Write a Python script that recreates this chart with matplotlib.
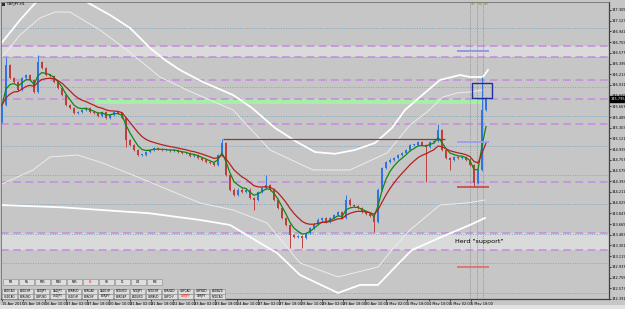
import numpy as np
import pandas as pd
import matplotlib as mpl
import matplotlib.pyplot as plt
from matplotlib.patches import Rectangle

mpl.rcParams['font.family'] = 'DejaVu Sans'

# ===================== Data (GBPJPY H1, one value every 3 bars) =====================
first_open = 145.40
closes = [145.69, 146.37, 146.15, 146.08, 145.95, 146.15, 146.20, 146.12, 145.91, 146.42,
          146.32, 146.20, 146.18, 146.08, 145.98, 145.86, 145.69, 145.64, 145.55, 145.57,
          145.61, 145.64, 145.57, 145.55, 145.50, 145.57, 145.47, 145.52, 145.57, 145.55,
          145.47, 145.10, 145.01, 144.93, 144.84, 144.84, 144.89, 144.93, 144.96, 144.94,
          144.93, 144.93, 144.91, 144.93, 144.89, 144.87, 144.87, 144.82, 144.84, 144.79,
          144.76, 144.72, 144.70, 144.67, 144.84, 145.04, 144.50, 144.25, 144.16, 144.25,
          144.21, 144.25, 144.11, 144.08, 144.21, 144.28, 144.33, 144.25, 144.08, 143.94,
          143.77, 143.65, 143.48, 143.45, 143.46, 143.43, 143.51, 143.60, 143.67, 143.74,
          143.77, 143.70, 143.77, 143.82, 143.87, 143.77, 144.08, 143.99, 143.97, 143.94,
          143.87, 143.84, 143.80, 143.70, 144.25, 144.62, 144.72, 144.76, 144.79, 144.84,
          144.87, 144.93, 145.01, 145.01, 145.06, 145.01, 144.98, 145.06, 145.08, 145.27,
          144.93, 144.79, 144.76, 144.81, 144.79, 144.81, 144.76, 144.67, 144.36, 144.59,
          145.61, 145.81]
step_hours = 3

# long wicks (bar number, extreme price)
wick_bar = [1, 9, 31, 55, 63, 66, 72, 75, 86, 93, 106, 109, 112, 118, 120]
wick_price = [146.51, 146.54, 144.98, 145.11, 143.90, 144.50, 143.26, 143.26, 144.16,
              143.53, 144.38, 145.37, 144.59, 144.30, 146.17]

# envelope curves (hour, price)
upper_slow_h = [-1.5, 13.5, 27, 43.5, 60.75, 81, 96, 111, 122.25, 133.5, 150.75, 173.25,
                187.5, 204.75, 221.25, 234.75, 249.75, 264.75, 279.75, 292.5, 302.25,
                313.5, 328.5, 343.5, 351, 360.75, 364.5]
upper_slow_p = [146.71, 147.135, 147.475, 147.68, 147.475, 147.22, 147.0, 146.66, 146.455,
                146.285, 146.08, 145.86, 145.64, 145.30, 145.06, 144.89, 144.86, 144.925,
                145.044, 145.30, 145.605, 145.826, 146.115, 146.20, 146.166, 146.166, 146.285]
upper_fast_h = [0, 13.5, 28.5, 39.75, 51, 73.5, 93.75, 118.5, 138.75, 173.25, 201, 233.25,
                261, 288.75, 306, 318.75, 330.75, 341.25, 351, 360.75]
upper_fast_p = [146.506, 146.88, 147.17, 147.27, 147.27, 146.965, 146.625, 146.166, 145.945,
                145.605, 144.925, 144.585, 144.585, 144.874, 145.35, 145.571, 145.826,
                145.894, 145.911, 145.945]
lower_fast_h = [-1.5, 23.25, 36, 56.25, 73.5, 103.5, 148.5, 173.25, 198.75, 223.5, 252,
                282, 292.5, 306, 328.5, 348.75, 362.25]
lower_fast_p = [144.33, 144.585, 144.806, 144.84, 144.72, 144.45, 144.024, 143.905, 143.684,
                143.004, 142.766, 142.936, 143.225, 143.565, 143.99, 144.024, 144.075]
lower_slow_h = [-1.5, 45, 110, 148.5, 171, 193.5, 206.25, 223.5, 252, 268.5, 282, 298.5,
                307.5, 330, 351, 362.25]
lower_slow_p = [143.99, 143.95, 143.85, 143.735, 143.65, 143.344, 143.174, 142.80, 142.494,
                142.63, 142.63, 143.02, 143.225, 143.45, 143.65, 143.769]

# levels
dashed_levels = [146.693, 146.506, 146.115, 145.792, 145.367, 144.381, 143.514, 143.225]
dotted_levels = [147.0, 146.5, 146.0, 145.5, 145.0, 144.5, 144.0, 143.5, 143.0, 142.5]
zones = [(146.506, 146.693), (143.225, 143.514)]
green_zone = (145.707, 145.792, 69.75, 360)
resist_line = (145.11, 165.75, 332.25)
vlines_h = [351, 356.25, 360.75]
short_lines = [(146.60, '#8c94e6'), (145.06, '#9aa0e8'), (144.296, '#c85050'), (142.936, '#e07070')]
short_x = (341.25, 365.25)
box = (352.5, 145.809, 15, 0.255)

price_ticks = [147.305, 147.123, 146.941, 146.759, 146.577, 146.395, 146.213, 146.031,
               145.849, 145.667, 145.485, 145.303, 145.121, 144.939, 144.757, 144.575,
               144.393, 144.211, 144.029, 143.847, 143.665, 143.483, 143.301, 143.119,
               142.937, 142.755, 142.573, 142.391]
time_ticks = [0, 16, 32, 48, 64, 80, 96, 112, 128, 144, 160, 176, 192, 208, 224, 240, 256,
              272, 288, 304, 320, 336, 352]
time_labels = ["15 Apr 2015", "15 Apr 18:00", "16 Apr 10:00", "17 Apr 02:00", "17 Apr 18:00",
               "20 Apr 10:00", "21 Apr 02:00", "21 Apr 18:00", "22 Apr 10:00", "23 Apr 02:00",
               "23 Apr 18:00", "24 Apr 10:00", "27 Apr 02:00", "27 Apr 18:00", "28 Apr 10:00",
               "29 Apr 02:00", "29 Apr 18:00", "30 Apr 10:00", "1 May 02:00", "1 May 18:00",
               "4 May 10:00", "5 May 02:00", "5 May 18:00"]
tf_buttons = ["M1", "M5", "M15", "M30", "M45", "H1", "H4", "D1", "W1", "MN"]
sym_row1 = ["AUDCAD", "AUDCHF", "AUDJPY", "CADJPY", "EURAUD", "EURCAD", "CADCHF", "NZDUSD",
            "NZDJPY", "NZDCHF", "EURNZD", "GBPCAD", "GBPNZD", "AUDNZD"]
sym_row2 = ["USDCAD", "EURUSD", "GBPUSD", "USDJPY", "USDCHF", "EURCHF", "EURJPY", "EURGBP",
            "AUDUSD", "GBPAUD", "GBPCHF", "GBPJPY", "CHFJPY", "NZDCAD"]

# ===================== Figure =====================
W, H = 625, 309
BG = '#c6c6c6'
fig = plt.figure(figsize=(W / 100, H / 100), dpi=100, facecolor=BG)
ax = fig.add_axes([1 / W, 1 - 299 / H, 608 / W, 297 / H], facecolor=BG)
ax.set_xlim(-0.75, 455.25)
ax.set_ylim(142.392, 147.441)

for lo, hi in zones:
    ax.axhspan(lo, hi, color='#dadada', lw=0, zorder=0)
ax.fill_between([green_zone[2], green_zone[3]], green_zone[0], green_zone[1],
                color='#a4f0a4', lw=0, zorder=1)
for p in dotted_levels:
    ax.axhline(p, color='#7fa8c4', lw=0.7, ls=(0, (1, 1.5)), zorder=1)
for p in dashed_levels:
    ax.axhline(p, color='#c48ae0', lw=1.1, ls=(0, (5, 3)), zorder=1)
for xv in vlines_h:
    ax.axvline(xv, color='#8c8c8c', lw=0.6, ls=(0, (1, 1.2)), zorder=1)

# envelopes
ax.plot(upper_slow_h, upper_slow_p, color='white', lw=1.3, zorder=2)
ax.plot(lower_slow_h, lower_slow_p, color='white', lw=1.3, zorder=2)
ax.plot(upper_fast_h, upper_fast_p, color='#ececec', lw=0.7, zorder=2)
ax.plot(lower_fast_h, lower_fast_p, color='#ececec', lw=0.7, zorder=2)

# candles
closes = np.array(closes)
opens = np.concatenate([[first_open], closes[:-1]])
xs = np.arange(len(closes)) * step_hours
up = closes >= opens
bull, bear = '#2f74e0', '#bf3f3f'
for i in range(len(closes)):
    c = bull if up[i] else bear
    ax.vlines(xs[i], min(opens[i], closes[i]) - 0.02, max(opens[i], closes[i]) + 0.02,
              color=c, lw=0.6, zorder=3)
for b, p in zip(wick_bar, wick_price):
    c = bull if up[b] else bear
    ref = max(opens[b], closes[b]) if p > closes[b] else min(opens[b], closes[b])
    ax.vlines(xs[b], min(ref, p), max(ref, p), color=c, lw=0.7, zorder=3)
ax.bar(xs, np.maximum(np.abs(closes - opens), 0.01), bottom=np.minimum(opens, closes),
       width=1.7, color=[bull if u else bear for u in up], lw=0, zorder=3)

# moving averages
s = pd.Series(closes, index=xs)
ax.plot(xs, s.ewm(span=4, adjust=False).mean(), color='#0f8a0f', lw=0.9, zorder=4)
ax.plot(xs, s.ewm(span=10, adjust=False).mean(), color='#b52020', lw=0.9, zorder=4)

# drawn objects
ax.hlines(resist_line[0], resist_line[1], resist_line[2], color='#8b3a3a', lw=0.9, zorder=4)
for p, c in short_lines:
    ax.hlines(p, short_x[0], short_x[1], color=c, lw=1.3, zorder=4)
ax.add_patch(Rectangle((box[0], box[1]), box[2], box[3], fill=False, ec='#1f2f9f', lw=1.0, zorder=5))
ax.text(340, 143.34, 'Herd "support"', fontsize=4.6, color='black', zorder=5)

# axes styling
for sp in ['left', 'top']:
    ax.spines[sp].set_color('#707070')
    ax.spines[sp].set_linewidth(0.6)
for sp in ['right', 'bottom']:
    ax.spines[sp].set_color('#404040')
    ax.spines[sp].set_linewidth(0.9)
ax.yaxis.tick_right()
ax.set_yticks(price_ticks)
ax.set_yticklabels([f"{v:.3f}" for v in price_ticks])
ax.tick_params(axis='y', length=1.2, width=0.5, labelsize=2.5, pad=0.5, colors='black')
ax.set_xticks(time_ticks)
ax.set_xticklabels(time_labels, ha='left')
ax.tick_params(axis='x', length=1.5, width=0.5, labelsize=2.5, pad=0.8, colors='black')

# current price label
fig.text(610.5 / W, 1 - 99 / H, '145.795', fontsize=2.5, color='white', va='center', zorder=10,
         bbox=dict(boxstyle='square,pad=0.15', fc='black', ec='black'))

# title and icon
fig.add_artist(Rectangle((2 / W, 1 - 6 / H), 3 / W, 3 / H, transform=fig.transFigure,
                         fc='#303030', ec='none'))
fig.text(7 / W, 1 - 4.5 / H, 'GBPJPY,H1', fontsize=2.6, color='black', va='center')
for xv, lab in zip([470, 477, 483], ['Sell', 'Buy', 'Sell']):
    fig.text((xv + 1) / W, 1 - 4 / H, lab, fontsize=2.0, color='#8a8a30', va='center')

# buttons
def button(x, y, w, h, label, color='black'):
    fig.add_artist(Rectangle((x / W, 1 - (y + h) / H), w / W, h / H, transform=fig.transFigure,
                             fc='#dedede', ec='#8a8a8a', lw=0.4))
    fig.text((x + w / 2) / W, 1 - (y + h / 2) / H, label, fontsize=2.0, color=color,
             ha='center', va='center')

for i, lab in enumerate(tf_buttons):
    button(3 + i * 16, 279, 15, 6, lab, 'red' if lab == 'H1' else 'black')
for i, lab in enumerate(sym_row1):
    button(2 + i * 16, 288.5, 15, 5, lab)
for i, lab in enumerate(sym_row2):
    button(2 + i * 16, 294, 15, 5, lab, 'red' if lab == 'GBPJPY' else 'black')

# status strip
fig.add_artist(Rectangle((0, 0), 1, 4 / H, transform=fig.transFigure, fc='#e2e2e2', ec='none'))

fig.savefig('out.png', dpi=100, facecolor=BG)
